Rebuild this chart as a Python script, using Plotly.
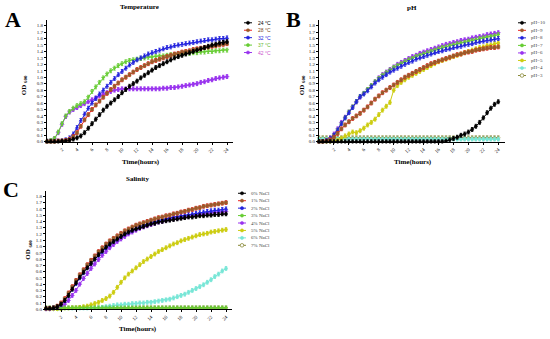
import plotly.graph_objects as go

hours = [0, 0.5, 1, 1.5, 2, 2.5, 3, 3.5, 4, 4.5, 5, 5.5, 6, 6.5, 7, 7.5, 8, 8.5, 9, 9.5,
         10, 10.5, 11, 11.5, 12, 12.5, 13, 13.5, 14, 14.5, 15, 15.5, 16, 16.5, 17, 17.5,
         18, 18.5, 19, 19.5, 20, 20.5, 21, 21.5, 22, 22.5, 23, 23.5, 24]

# ---------------- Temperature ----------------
temp_labels = ["24 °C", "28 °C", "32 °C", "37 °C", "42 °C"]
t24 = [0.00, 0.00, 0.00, 0.00, 0.01, 0.01, 0.02, 0.04, 0.06, 0.09, 0.14, 0.21, 0.28, 0.35, 0.42, 0.49,
       0.55, 0.60, 0.65, 0.70, 0.76, 0.81, 0.86, 0.90, 0.94, 0.99, 1.03, 1.07, 1.11, 1.15, 1.18, 1.21,
       1.24, 1.27, 1.30, 1.32, 1.34, 1.36, 1.38, 1.40, 1.42, 1.44, 1.46, 1.48, 1.50, 1.51, 1.53, 1.54, 1.55]
t28 = [0.00, 0.00, 0.00, 0.01, 0.01, 0.02, 0.04, 0.08, 0.14, 0.24, 0.34, 0.42, 0.50, 0.57, 0.63, 0.69,
       0.75, 0.81, 0.86, 0.91, 0.96, 1.00, 1.04, 1.08, 1.12, 1.15, 1.18, 1.21, 1.24, 1.26, 1.28, 1.30,
       1.32, 1.34, 1.36, 1.37, 1.39, 1.40, 1.41, 1.43, 1.44, 1.45, 1.46, 1.47, 1.48, 1.49, 1.50, 1.51, 1.52]
t32 = [0.00, 0.00, 0.00, 0.01, 0.01, 0.03, 0.06, 0.12, 0.22, 0.33, 0.43, 0.52, 0.60, 0.67, 0.74, 0.80,
       0.86, 0.92, 0.98, 1.04, 1.09, 1.14, 1.19, 1.23, 1.27, 1.30, 1.33, 1.36, 1.38, 1.40, 1.42, 1.44,
       1.46, 1.47, 1.49, 1.50, 1.51, 1.52, 1.53, 1.54, 1.55, 1.56, 1.57, 1.58, 1.58, 1.59, 1.60, 1.60, 1.61]
t37 = [0.01, 0.02, 0.05, 0.15, 0.28, 0.40, 0.47, 0.52, 0.56, 0.59, 0.62, 0.69, 0.78, 0.85, 0.92, 0.99,
       1.05, 1.10, 1.14, 1.18, 1.21, 1.24, 1.26, 1.27, 1.28, 1.29, 1.30, 1.31, 1.31, 1.32, 1.33, 1.33,
       1.34, 1.35, 1.35, 1.36, 1.36, 1.37, 1.37, 1.38, 1.38, 1.39, 1.39, 1.40, 1.40, 1.41, 1.41, 1.42, 1.42]
t42 = [0.01, 0.02, 0.05, 0.14, 0.27, 0.39, 0.46, 0.50, 0.53, 0.56, 0.59, 0.62, 0.65, 0.68, 0.71, 0.74,
       0.76, 0.78, 0.80, 0.81, 0.82, 0.82, 0.82, 0.82, 0.82, 0.82, 0.82, 0.82, 0.82, 0.82, 0.82, 0.83,
       0.83, 0.84, 0.84, 0.85, 0.86, 0.87, 0.88, 0.89, 0.90, 0.92, 0.93, 0.95, 0.96, 0.98, 0.99, 1.00, 1.01]

# ---------------- pH ----------------
ph_labels = ["pH=10", "pH=9", "pH=8", "pH=7", "pH=6", "pH=5", "pH=4", "pH=3"]
ph10 = [0.00, 0.00, 0.00, 0.00, 0.00, 0.00, 0.00, 0.00, 0.00, 0.00, 0.00, 0.00, 0.00, 0.00,
        0.00, 0.00, 0.00, 0.00, 0.00, 0.00, 0.00, 0.00, 0.00, 0.00, 0.00, 0.00, 0.00, 0.00, 0.00, 0.00,
        0.00, 0.00, 0.00, 0.00, 0.01, 0.03, 0.05, 0.07, 0.10, 0.12, 0.15, 0.19, 0.24, 0.30, 0.37, 0.45,
        0.52, 0.58, 0.62]
ph9 = [0.00, 0.00, 0.01, 0.03, 0.07, 0.13, 0.20, 0.26, 0.31, 0.36, 0.40, 0.44, 0.49, 0.54, 0.60, 0.66,
       0.71, 0.76, 0.80, 0.84, 0.88, 0.92, 0.96, 1.00, 1.03, 1.06, 1.09, 1.12, 1.15, 1.18, 1.21, 1.23,
       1.25, 1.27, 1.29, 1.31, 1.33, 1.35, 1.36, 1.38, 1.39, 1.40, 1.42, 1.43, 1.44, 1.45, 1.46, 1.46, 1.47]
ph8 = [0.00, 0.00, 0.02, 0.05, 0.10, 0.18, 0.28, 0.37, 0.45, 0.53, 0.62, 0.70, 0.74, 0.79, 0.85, 0.91,
       0.96, 1.00, 1.04, 1.08, 1.11, 1.14, 1.17, 1.20, 1.23, 1.25, 1.28, 1.30, 1.32, 1.34, 1.36, 1.38,
       1.40, 1.41, 1.43, 1.44, 1.46, 1.47, 1.48, 1.50, 1.51, 1.52, 1.54, 1.55, 1.56, 1.57, 1.58, 1.59, 1.60]
ph7 = [0.00, 0.00, 0.02, 0.05, 0.10, 0.18, 0.28, 0.37, 0.46, 0.54, 0.62, 0.70, 0.75, 0.81, 0.87, 0.93,
       0.98, 1.03, 1.07, 1.11, 1.15, 1.18, 1.21, 1.24, 1.27, 1.29, 1.32, 1.34, 1.36, 1.38, 1.40, 1.42,
       1.44, 1.46, 1.47, 1.49, 1.50, 1.52, 1.53, 1.54, 1.56, 1.57, 1.58, 1.60, 1.61, 1.62, 1.63, 1.64, 1.66]
ph6 = [0.00, 0.00, 0.02, 0.06, 0.12, 0.20, 0.30, 0.38, 0.46, 0.54, 0.62, 0.69, 0.75, 0.81, 0.87, 0.93,
       0.99, 1.04, 1.08, 1.12, 1.16, 1.20, 1.23, 1.26, 1.29, 1.32, 1.34, 1.37, 1.39, 1.41, 1.43, 1.45,
       1.47, 1.49, 1.51, 1.52, 1.54, 1.55, 1.57, 1.58, 1.59, 1.61, 1.62, 1.63, 1.64, 1.66, 1.67, 1.68, 1.69]
ph5 = [0.00, 0.00, 0.00, 0.00, 0.01, 0.02, 0.05, 0.09, 0.12, 0.15, 0.14, 0.17, 0.21, 0.26, 0.30, 0.35,
       0.42, 0.49, 0.55, 0.61, 0.80, 0.87, 0.92, 0.96, 1.00, 1.03, 1.06, 1.09, 1.12, 1.15, 1.18, 1.21,
       1.24, 1.26, 1.28, 1.30, 1.32, 1.34, 1.36, 1.38, 1.40, 1.42, 1.44, 1.46, 1.47, 1.49, 1.50, 1.52, 1.53]
ph4 = [0.04, 0.04, 0.04, 0.04, 0.04, 0.04, 0.04, 0.04, 0.04, 0.04, 0.04, 0.04, 0.04, 0.04, 0.04, 0.04,
       0.04, 0.04, 0.04, 0.04, 0.04, 0.04, 0.04, 0.04, 0.04, 0.04, 0.04, 0.04, 0.04, 0.04, 0.04, 0.04,
       0.04, 0.04, 0.04, 0.04, 0.04, 0.04, 0.04, 0.04, 0.04, 0.04, 0.04, 0.04, 0.04, 0.04, 0.04, 0.04, 0.04]
ph3 = [0.06, 0.06, 0.06, 0.06, 0.06, 0.06, 0.06, 0.06, 0.06, 0.06, 0.06, 0.06, 0.06, 0.06, 0.06, 0.06,
       0.06, 0.06, 0.06, 0.06, 0.06, 0.06, 0.06, 0.06, 0.06, 0.06, 0.06, 0.06, 0.06, 0.06, 0.06, 0.06,
       0.06, 0.06, 0.06, 0.06, 0.06, 0.06, 0.06, 0.06, 0.06, 0.06, 0.06, 0.06, 0.06, 0.06, 0.06, 0.06, 0.06]

# ---------------- Salinity ----------------
nacl_labels = ["0% NaCl", "1% NaCl", "2% NaCl", "3% NaCl", "4% NaCl", "5% NaCl", "6% NaCl", "7% NaCl"]
s0 = [0.01, 0.01, 0.02, 0.04, 0.08, 0.14, 0.22, 0.32, 0.42, 0.51, 0.59, 0.66, 0.73, 0.80, 0.87, 0.93,
      0.99, 1.04, 1.08, 1.12, 1.16, 1.20, 1.23, 1.26, 1.28, 1.30, 1.32, 1.34, 1.36, 1.37, 1.39, 1.40,
      1.41, 1.42, 1.43, 1.44, 1.45, 1.46, 1.47, 1.47, 1.48, 1.49, 1.49, 1.50, 1.50, 1.51, 1.51, 1.52, 1.52]
s1 = [0.01, 0.01, 0.02, 0.05, 0.10, 0.17, 0.26, 0.36, 0.46, 0.55, 0.63, 0.71, 0.78, 0.85, 0.92, 0.98,
      1.04, 1.09, 1.13, 1.17, 1.21, 1.25, 1.28, 1.31, 1.34, 1.36, 1.38, 1.40, 1.42, 1.44, 1.46, 1.47,
      1.49, 1.50, 1.52, 1.53, 1.55, 1.56, 1.58, 1.59, 1.61, 1.62, 1.64, 1.65, 1.66, 1.67, 1.68, 1.69, 1.70]
s2 = [0.01, 0.01, 0.02, 0.04, 0.08, 0.14, 0.22, 0.32, 0.41, 0.50, 0.58, 0.66, 0.73, 0.80, 0.86, 0.92,
      0.98, 1.03, 1.08, 1.12, 1.16, 1.20, 1.23, 1.26, 1.29, 1.31, 1.34, 1.36, 1.38, 1.40, 1.41, 1.43,
      1.44, 1.46, 1.47, 1.48, 1.49, 1.50, 1.51, 1.52, 1.53, 1.54, 1.55, 1.56, 1.57, 1.58, 1.58, 1.59, 1.60]
s3 = [0.02, 0.02, 0.02, 0.02, 0.02, 0.02, 0.02, 0.02, 0.02, 0.02, 0.02, 0.02, 0.02, 0.02, 0.02, 0.02,
      0.02, 0.02, 0.02, 0.02, 0.02, 0.02, 0.02, 0.02, 0.02, 0.02, 0.02, 0.02, 0.02, 0.02, 0.02, 0.02,
      0.02, 0.02, 0.02, 0.02, 0.02, 0.02, 0.02, 0.02, 0.02, 0.02, 0.02, 0.02, 0.02, 0.02, 0.02, 0.02, 0.02]
s4 = [0.00, 0.00, 0.01, 0.02, 0.04, 0.08, 0.14, 0.22, 0.30, 0.40, 0.49, 0.57, 0.65, 0.72, 0.79, 0.86,
      0.92, 0.98, 1.03, 1.08, 1.12, 1.16, 1.20, 1.23, 1.26, 1.29, 1.31, 1.33, 1.35, 1.37, 1.39, 1.40,
      1.42, 1.43, 1.44, 1.45, 1.46, 1.47, 1.48, 1.49, 1.50, 1.51, 1.52, 1.53, 1.54, 1.54, 1.55, 1.55, 1.56]
s5 = [0.00, 0.00, 0.00, 0.00, 0.00, 0.01, 0.01, 0.02, 0.02, 0.03, 0.04, 0.05, 0.07, 0.09, 0.11, 0.14,
      0.17, 0.21, 0.27, 0.35, 0.43, 0.50, 0.56, 0.61, 0.66, 0.71, 0.76, 0.80, 0.84, 0.88, 0.92, 0.95,
      0.98, 1.01, 1.04, 1.06, 1.09, 1.11, 1.13, 1.15, 1.17, 1.19, 1.20, 1.21, 1.23, 1.24, 1.25, 1.26, 1.27]
s6 = [0.00, 0.00, 0.00, 0.00, 0.00, 0.01, 0.01, 0.01, 0.01, 0.01, 0.01, 0.01, 0.02, 0.02, 0.02, 0.03,
      0.04, 0.05, 0.06, 0.07, 0.07, 0.08, 0.08, 0.09, 0.09, 0.10, 0.10, 0.11, 0.11, 0.12, 0.13, 0.14,
      0.15, 0.16, 0.18, 0.20, 0.22, 0.24, 0.27, 0.30, 0.33, 0.36, 0.39, 0.43, 0.47, 0.52, 0.56, 0.61, 0.65]
s7 = [0.02, 0.02, 0.02, 0.02, 0.02, 0.02, 0.02, 0.02, 0.02, 0.02, 0.02, 0.02, 0.02, 0.02, 0.02, 0.02,
      0.02, 0.02, 0.02, 0.02, 0.02, 0.02, 0.02, 0.02, 0.02, 0.02, 0.02, 0.02, 0.02, 0.02, 0.02, 0.02,
      0.02, 0.02, 0.02, 0.02, 0.02, 0.02, 0.02, 0.02, 0.02, 0.02, 0.02, 0.02, 0.02, 0.02, 0.02, 0.02, 0.02]

err_sd = 0.03
y_ticks = [0.0, 0.1, 0.2, 0.3, 0.4, 0.5, 0.6, 0.7, 0.8, 0.9, 1.0, 1.1, 1.2, 1.3, 1.4, 1.5, 1.6, 1.7, 1.8]
x_ticks = [2, 4, 6, 8, 10, 12, 14, 16, 18, 20, 22, 24]

# styles: (line/errorbar colour, marker colour, symbol)
BLACK = ("#000000", "#000000", "circle")
RED = ("#ee2222", "#9a5a2a", "square")
BLUE = ("#2222dd", "#2222dd", "triangle-up")
GREEN = ("#66cc33", "#66cc33", "triangle-down")
PURPLE = ("#9933ee", "#9933ee", "diamond")
YELLOW = ("#cccc11", "#cccc11", "circle")
CYAN = ("#77e6d6", "#77e6d6", "circle")
OLIVE = ("#8a8a3a", "#8a8a3a", "diamond-open")

SERIF = "Liberation Serif, Times New Roman, serif"

fig = go.Figure()

panels = [
    ("x", "y", [t24, t28, t32, t37, t42], temp_labels, [BLACK, RED, BLUE, GREEN, PURPLE]),
    ("x2", "y2", [ph10, ph9, ph8, ph7, ph6, ph5, ph4, ph3], ph_labels,
     [BLACK, RED, BLUE, GREEN, PURPLE, YELLOW, CYAN, OLIVE]),
    ("x3", "y3", [s0, s1, s2, s3, s4, s5, s6, s7], nacl_labels,
     [BLACK, RED, BLUE, GREEN, PURPLE, YELLOW, CYAN, OLIVE]),
]

for xa, ya, series, labels, styles in panels:
    order = list(range(len(series)))[::-1]
    for i in order:
        lc, mc, sym = styles[i]
        fig.add_trace(go.Scatter(
            x=hours, y=series[i], xaxis=xa, yaxis=ya, name=labels[i], mode="lines+markers",
            line=dict(color=lc, width=1),
            marker=dict(color=mc, size=3, symbol=sym, line=dict(width=0.6, color=mc)),
            error_y=dict(type="constant", value=err_sd, color=lc, thickness=0.9, width=1.2),
            showlegend=False, cliponaxis=False,
        ))

W, H = 550, 339

def px(xp):
    return xp / W

def py(yp):
    return 1 - yp / H

axis_common = dict(showline=True, linecolor="black", linewidth=1, ticks="outside",
                   ticklen=2, tickwidth=0.8, tickcolor="black", showgrid=False, zeroline=False,
                   tickfont=dict(family=SERIF, size=5, color="#222"))

fig.update_layout(
    width=W, height=H, margin=dict(l=0, r=0, t=0, b=0),
    paper_bgcolor="white", plot_bgcolor="white", showlegend=False,
    xaxis=dict(domain=[px(47), px(233)], range=[0, 24.8], anchor="y", tickvals=x_ticks,
               tickangle=-45, **axis_common),
    yaxis=dict(domain=[py(143), py(20)], range=[0, 1.89], anchor="x", tickvals=y_ticks,
               tickformat=".1f", **axis_common),
    xaxis2=dict(domain=[px(319), px(505)], range=[0, 24.9], anchor="y2", tickvals=x_ticks,
                tickangle=-45, **axis_common),
    yaxis2=dict(domain=[py(143), py(20)], range=[0, 1.89], anchor="x2", tickvals=y_ticks,
                tickformat=".1f", **axis_common),
    xaxis3=dict(domain=[px(46), px(232)], range=[0, 24.8], anchor="y3", tickvals=x_ticks,
                tickangle=-45, **axis_common),
    yaxis3=dict(domain=[py(312), py(193)], range=[0, 1.88], anchor="x3", tickvals=y_ticks,
                tickformat=".1f", **axis_common),
)

annotations = []
shapes = []

def text(x, y, s, size, bold=False, angle=0, color="black", xanchor="center", family=SERIF):
    annotations.append(dict(x=px(x), y=py(y), xref="paper", yref="paper", text=s,
                            showarrow=False, xanchor=xanchor, yanchor="middle", textangle=angle,
                            font=dict(family=family, size=size, color=color)))

# panel letters
text(13, 20, "<b>A</b>", 22)
text(293, 20, "<b>B</b>", 22)
text(11, 191, "<b>C</b>", 22)
# titles
text(140, 7, "<b>Temperature</b>", 7)
text(412, 8, "<b>pH</b>", 7)
text(137, 181, "<b>Salinity</b>", 7)
# axis titles
text(24, 86, "<b>OD <sub>600</sub></b>", 7, angle=-90)
text(302, 86, "<b>OD <sub>600</sub></b>", 7, angle=-90)
text(28, 252, "<b>OD <sub>600</sub></b>", 7, angle=-90)
text(141, 163, "<b>Time(hours)</b>", 7)
text(413, 163, "<b>Time(hours)</b>", 7)
text(138, 332, "<b>Time(hours)</b>", 7)

def legend(x_marker, x_text, y0, step, labels, styles, text_colors, family):
    for k, (lab, st) in enumerate(zip(labels, styles)):
        yy = y0 + k * step
        lc, mc, sym = st
        shapes.append(dict(type="line", xref="paper", yref="paper",
                           x0=px(x_marker - 4), x1=px(x_marker + 4), y0=py(yy), y1=py(yy),
                           line=dict(color=lc, width=1)))
        if sym == "diamond-open":
            shapes.append(dict(type="circle", xref="paper", yref="paper",
                               x0=px(x_marker - 1.8), x1=px(x_marker + 1.8),
                               y0=py(yy + 1.8), y1=py(yy - 1.8),
                               line=dict(color=mc, width=0.8), fillcolor="white"))
        else:
            shapes.append(dict(type="circle", xref="paper", yref="paper",
                               x0=px(x_marker - 1.6), x1=px(x_marker + 1.6),
                               y0=py(yy + 1.6), y1=py(yy - 1.6),
                               line=dict(color=mc, width=0.5), fillcolor=mc))
        text(x_text, yy, lab, 5, color=text_colors[k], xanchor="left", family=family)

temp_text_colors = ["#000000", "#7a4a20", "#2222dd", "#66bb33", "#cc55cc"]
legend(248, 256, 23, 7.5, temp_labels, [BLACK, RED, BLUE, GREEN, PURPLE], temp_text_colors,
       "Liberation Sans, Arial, sans-serif")
legend(522, 529, 23, 7.6, ph_labels, [BLACK, RED, BLUE, GREEN, PURPLE, YELLOW, CYAN, OLIVE],
       ["#444"] * 8, SERIF)
legend(242, 249, 195, 7.5, nacl_labels, [BLACK, RED, BLUE, GREEN, PURPLE, YELLOW, CYAN, OLIVE],
       ["#444"] * 8, SERIF)

fig.update_layout(annotations=annotations, shapes=shapes)

fig.write_html("out.html", config={"displayModeBar": False},
               post_script="document.body.style.margin='0';")
